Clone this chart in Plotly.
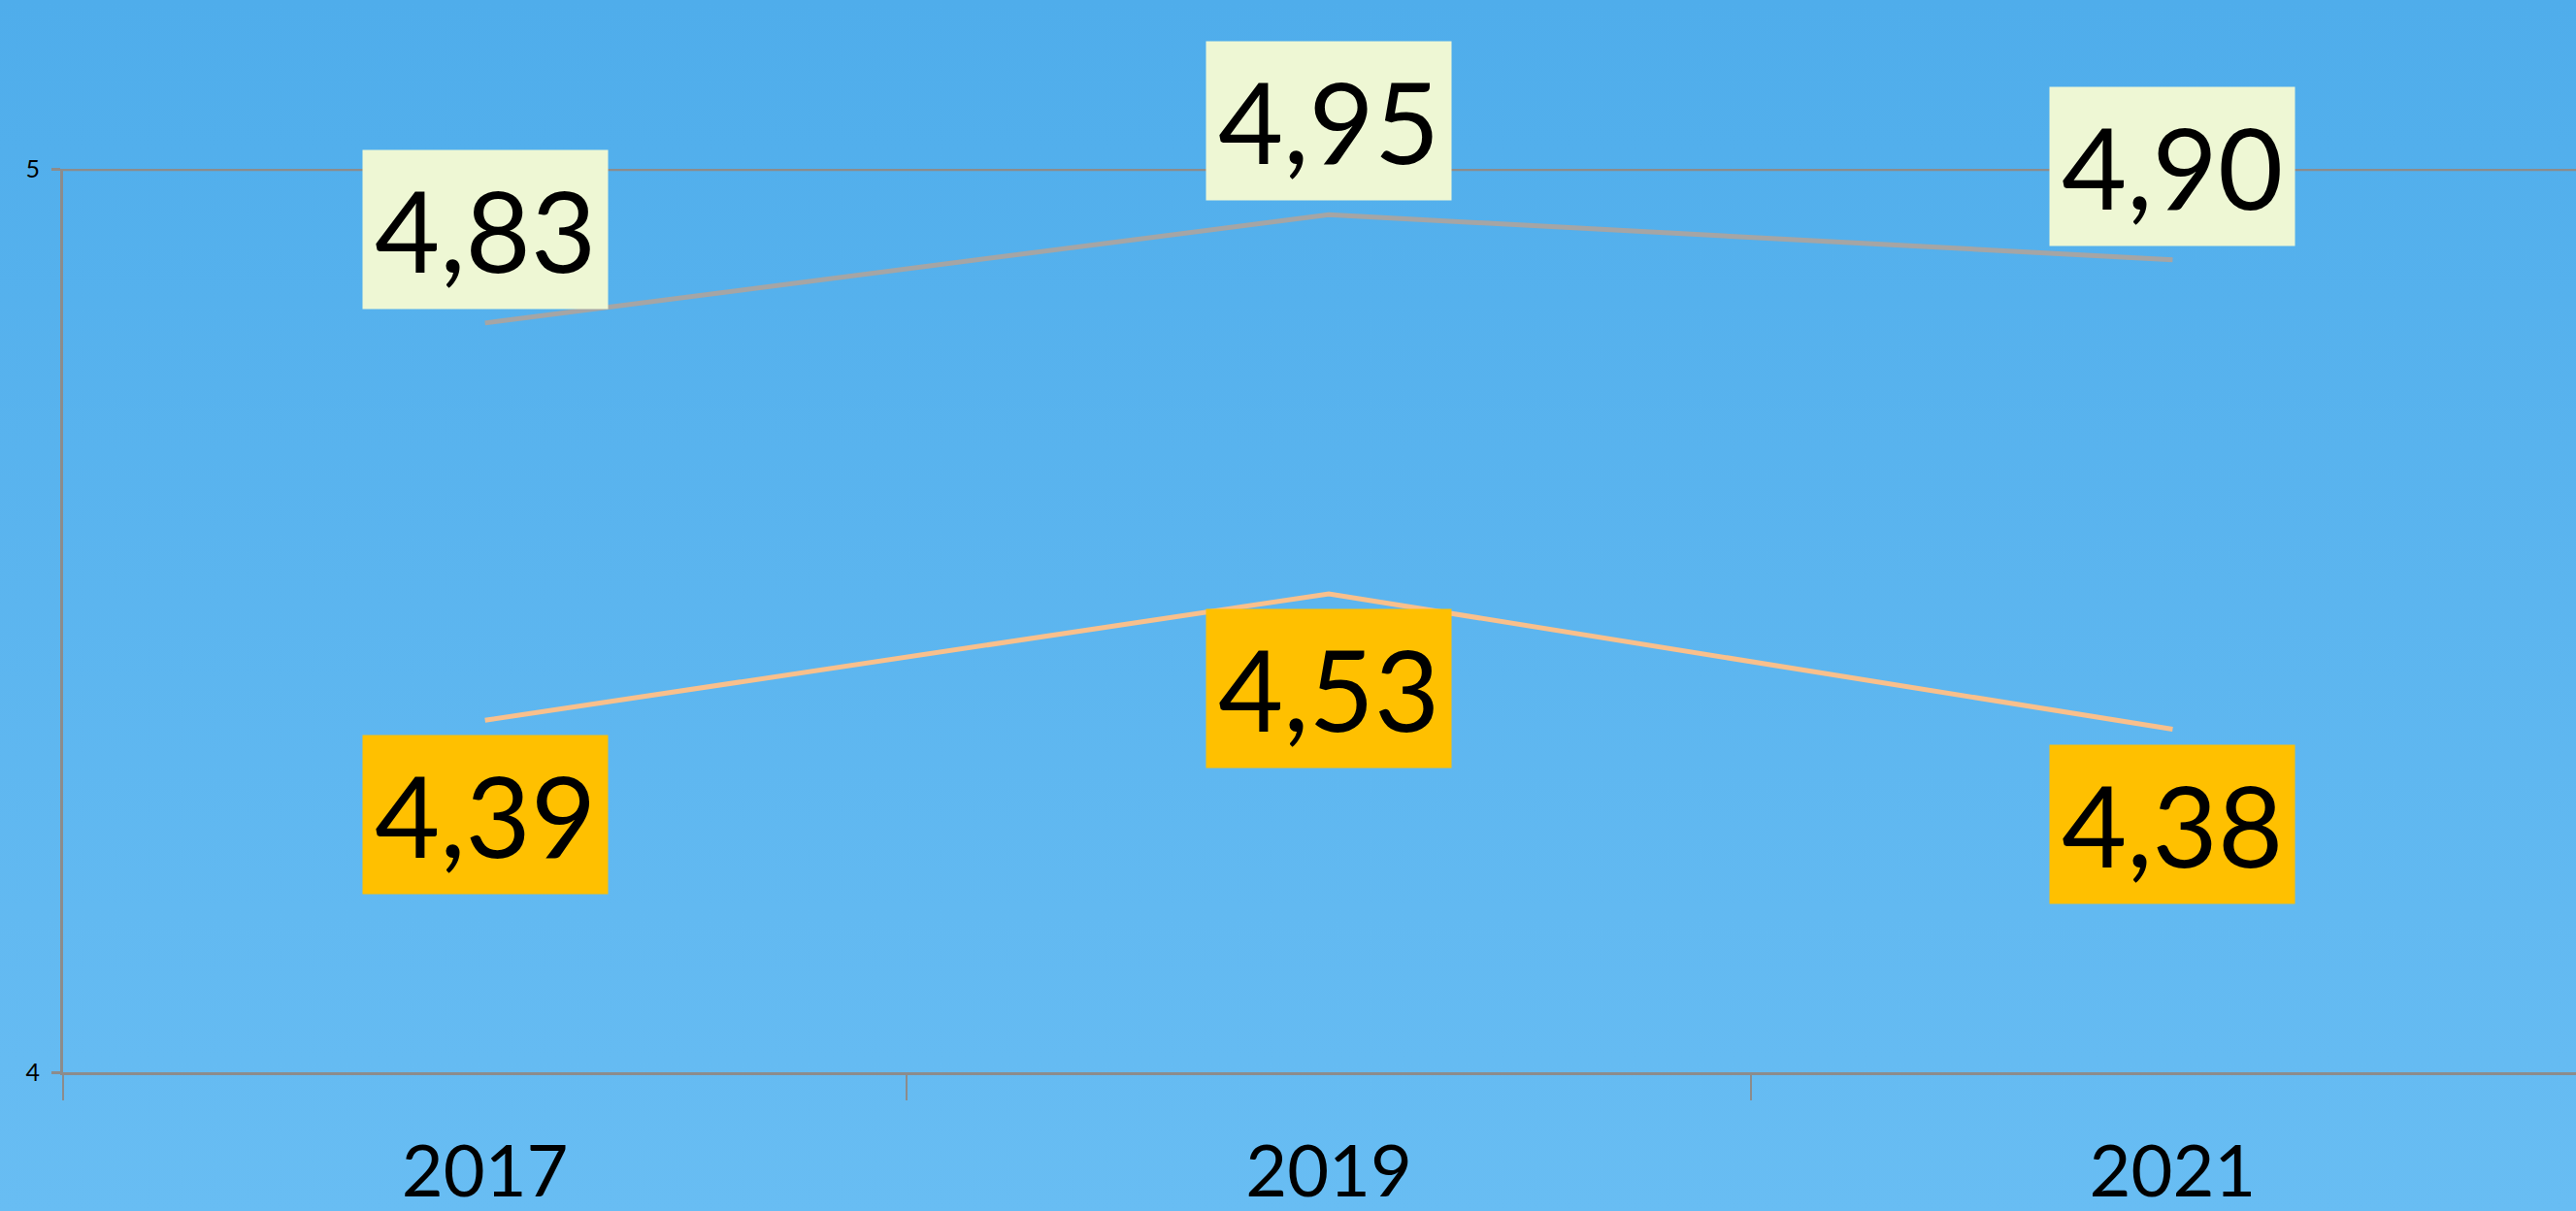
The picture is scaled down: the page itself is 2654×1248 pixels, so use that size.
import base64
import plotly.graph_objects as go

years = ["2017", "2019", "2021"]
series_top = [4.83, 4.95, 4.90]
series_bottom = [4.39, 4.53, 4.38]
labels_top = ["4,83", "4,95", "4,90"]
labels_bottom = ["4,39", "4,53", "4,38"]
y_ticks = [4, 5]

W, H = 2654, 1248
ML, MR, MT, MB = 65, 0, 174, 143
pw, ph = W - ML - MR, H - MT - MB

svg = (
    f'<svg xmlns="http://www.w3.org/2000/svg" width="{W}" height="{H}" preserveAspectRatio="none">'
    '<defs><linearGradient id="g" x1="0" y1="0" x2="0" y2="1">'
    '<stop offset="0" stop-color="#4FADEB"/><stop offset="1" stop-color="#68BDF3"/>'
    '</linearGradient></defs>'
    f'<rect width="{W}" height="{H}" fill="url(#g)"/></svg>'
)
src = "data:image/svg+xml;base64," + base64.b64encode(svg.encode()).decode()

fig = go.Figure()
fig.add_trace(go.Scatter(x=years, y=series_top, mode="lines",
                         line=dict(color="#A5A5A5", width=5), cliponaxis=False,
                         hoverinfo="skip", showlegend=False))
fig.add_trace(go.Scatter(x=years, y=series_bottom, mode="lines",
                         line=dict(color="#F9C08C", width=5), cliponaxis=False,
                         hoverinfo="skip", showlegend=False))

# top gridline (value 5) drawn through the y scale
fig.add_shape(type="line", xref="paper", yref="y", x0=0, x1=1, y0=y_ticks[-1], y1=y_ticks[-1],
              line=dict(color="#8C8C8C", width=3), layer="below")

lab_font = dict(family="Lato, Calibri, sans-serif", size=116, color="black")
for i, (y, t) in enumerate(zip(series_top, labels_top)):
    fig.add_annotation(x=i, y=y, text=t, showarrow=False, xanchor="center",
                       yanchor="bottom", yshift=14, bgcolor="#EEF7D4",
                       borderpad=12, font=lab_font)
for i, (y, t) in enumerate(zip(series_bottom, labels_bottom)):
    fig.add_annotation(x=i, y=y, text=t, showarrow=False, xanchor="center",
                       yanchor="top", yshift=-15, bgcolor="#FFC000",
                       borderpad=12, font=lab_font)

fig.add_layout_image(dict(source=src, xref="paper", yref="paper",
                          x=-ML / pw, y=1 + MT / ph, sizex=W / pw, sizey=H / ph,
                          xanchor="left", yanchor="top", sizing="stretch",
                          layer="below"))

fig.update_layout(
    width=W, height=H,
    margin=dict(l=ML, r=MR, t=MT, b=MB, pad=0),
    paper_bgcolor="#5CB5EF", plot_bgcolor="rgba(0,0,0,0)",
    showlegend=False,
    xaxis=dict(type="category", range=[-0.5, 2.478], showgrid=False,
               showline=True, linecolor="#8C8C8C", linewidth=3,
               ticks="outside", tickson="boundaries", ticklen=26,
               tickcolor="#8C8C8C", tickwidth=2,
               tickfont=dict(family="Lato, Calibri, sans-serif", size=74, color="black"),
               ticklabelstandoff=36, zeroline=False),
    yaxis=dict(range=[4, 5.0008], tickvals=y_ticks, ticktext=[str(v) for v in y_ticks],
               showgrid=True, gridcolor="#8C8C8C", gridwidth=3,
               showline=True, linecolor="#8C8C8C", linewidth=3,
               ticks="outside", ticklen=9, tickcolor="#8C8C8C", tickwidth=3,
               tickfont=dict(family="Lato, Calibri, sans-serif", size=25, color="black"),
               ticklabelstandoff=7, zeroline=False),
)

fig.write_html("out.html", config={"displayModeBar": False},
               post_script="document.body.style.margin='0';document.body.style.overflow='hidden';")
